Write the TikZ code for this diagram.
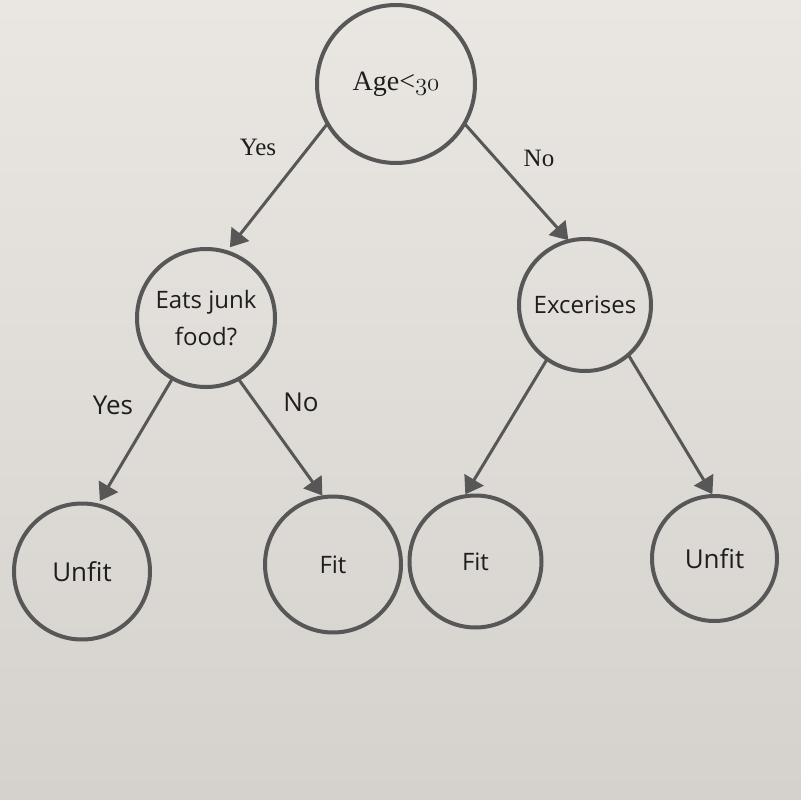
\documentclass[tikz,border=0pt]{standalone}
\usepackage{fontspec}
\setmainfont{Liberation Serif}
\newfontfamily\opensans{Open Sans}
\usetikzlibrary{arrows.meta}
\definecolor{edgegrey}{HTML}{575757}
\definecolor{inkgrey}{HTML}{1E1E1E}
\definecolor{bgtop}{HTML}{EAE6E1}
\definecolor{bgbot}{HTML}{D5D1CC}
\newcommand{\osnum}[1]{{\fontencoding{OML}\fontfamily{cmm}\fontseries{m}\fontshape{it}\fontsize{31}{32}\selectfont #1}}
\begin{document}
\begin{tikzpicture}[x=1pt,y=-1pt,
    dnode/.style={circle, draw=edgegrey, line width=4pt, outer sep=0pt, inner sep=0pt, text=inkgrey, align=center},
    serifsz/.style={font=\fontsize{25}{30}\selectfont},
    sanssz/.style={font=\opensans\fontsize{24}{37}\selectfont},
    sansbig/.style={font=\opensans\fontsize{26}{30}\selectfont},
    darrow/.style={draw=edgegrey, line width=3pt, -{Triangle[length=17pt,width=22pt]}}]
          \shade[top color=bgtop, bottom color=bgbot] (0,0) rectangle (801,800);
          \useasboundingbox (0,0) rectangle (801,800);
          \node[dnode, font=\fontsize{28}{32}\selectfont, minimum size=158pt] (nd0) at (396,84){Age<\osnum{30}};
          \node[dnode, sanssz, minimum size=138pt] (nd1) at (206,318){Eats junk\\food?};
          \node[dnode, sanssz, minimum size=132pt] (nd2) at (585,305){Excerises};
          \node[dnode, sansbig, minimum size=136pt] (nd3) at (82,571.5){Unfit};
          \node[dnode, sanssz, minimum size=136pt] (nd4) at (333,564.5){Fit};
          \node[dnode, sanssz, minimum size=132pt] (nd5) at (475.5,561.5){Fit};
          \node[dnode, sansbig, minimum size=125pt] (nd6) at (714.5,558.5){Unfit};
          \draw[darrow, shorten >=6pt](nd0.210) -- (nd1.73);
          \draw[darrow, shorten >=1pt](nd0.330) -- (nd2.104.7);
          \draw[darrow, shorten >=5pt](nd1.241.2) -- (nd3.77.4);
          \draw[darrow, shorten >=2pt](nd1.298.8) -- (nd4.98.2);
          \draw[darrow, shorten >=2.5pt](nd2.235.4) -- (nd5.100.5);
          \draw[darrow, shorten >=2pt](nd2.311.3) -- (nd6.91.3);
          \node[serifsz, text=inkgrey] (lb0) at (258,147){Yes};
          \node[serifsz, text=inkgrey] (lb1) at (539,158){No};
          \node[sansbig, text=inkgrey] (lb2) at (113,405){Yes};
          \node[sansbig, text=inkgrey] (lb3) at (301,402){No};
        \end{tikzpicture}
\end{document}
